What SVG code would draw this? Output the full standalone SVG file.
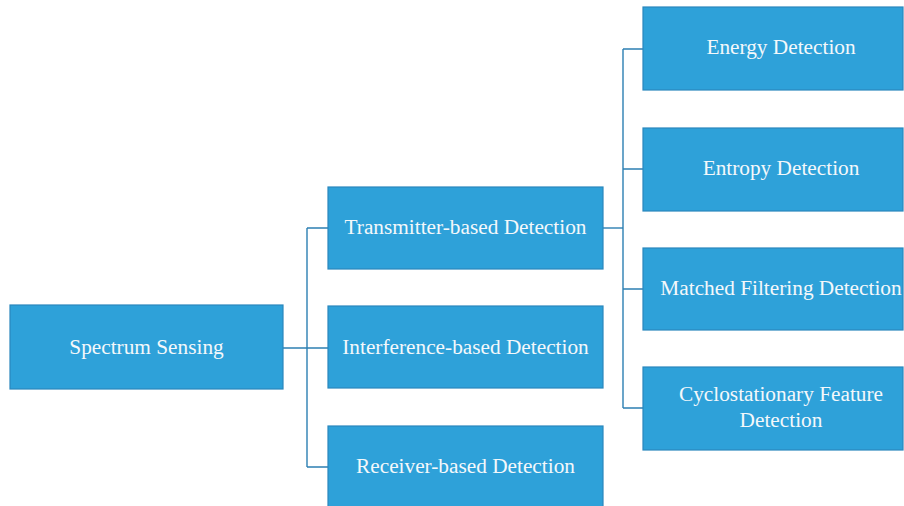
<svg xmlns="http://www.w3.org/2000/svg" width="904" height="506" viewBox="0 0 904 506">
  <style>
    .box { fill: #2ea1d9; stroke: #2a87bd; stroke-width: 1.2; }
    .lbl { fill: #f4f8fb; font-family: "Liberation Serif", "DejaVu Serif", serif; font-size: 21.3px; text-anchor: middle; }
    .wire { fill: none; stroke: #2c7fb2; stroke-width: 1.4; }
  </style>
  <rect width="904" height="506" fill="#ffffff"/>

  <!-- connectors -->
  <g id="connectors">
    <path class="wire" d="M283,348 H328"/>
    <path class="wire" d="M307,228 V467"/>
    <path class="wire" d="M307,228 H328 M307,467 H328"/>
    <path class="wire" d="M603,228 H623"/>
    <path class="wire" d="M623,49 V408"/>
    <path class="wire" d="M623,49 H643 M623,169 H643 M623,289 H643 M623,408 H643"/>
  </g>

  <!-- root -->
  <g id="spectrum-sensing">
    <rect class="box" x="10" y="305" width="273" height="84"/>
    <text class="lbl" x="146.5" y="354">Spectrum Sensing</text>
  </g>

  <!-- second level -->
  <g id="transmitter-based">
    <rect class="box" x="328" y="187" width="275" height="82"/>
    <text class="lbl" x="465.5" y="234">Transmitter-based Detection</text>
  </g>
  <g id="interference-based">
    <rect class="box" x="328" y="306" width="275" height="82"/>
    <text class="lbl" x="465.5" y="354">Interference-based Detection</text>
  </g>
  <g id="receiver-based">
    <rect class="box" x="328" y="426" width="275" height="82"/>
    <text class="lbl" x="465.5" y="473">Receiver-based Detection</text>
  </g>

  <!-- third level -->
  <g id="energy">
    <rect class="box" x="643" y="7" width="260" height="83"/>
    <text class="lbl" x="781" y="54">Energy Detection</text>
  </g>
  <g id="entropy">
    <rect class="box" x="643" y="128" width="260" height="83"/>
    <text class="lbl" x="781" y="175">Entropy Detection</text>
  </g>
  <g id="matched-filtering">
    <rect class="box" x="643" y="248" width="260" height="82"/>
    <text class="lbl" x="781" y="295">Matched Filtering Detection</text>
  </g>
  <g id="cyclostationary">
    <rect class="box" x="643" y="367" width="260" height="83"/>
    <text class="lbl" x="781" y="401">Cyclostationary Feature</text>
    <text class="lbl" x="781" y="427">Detection</text>
  </g>
</svg>
